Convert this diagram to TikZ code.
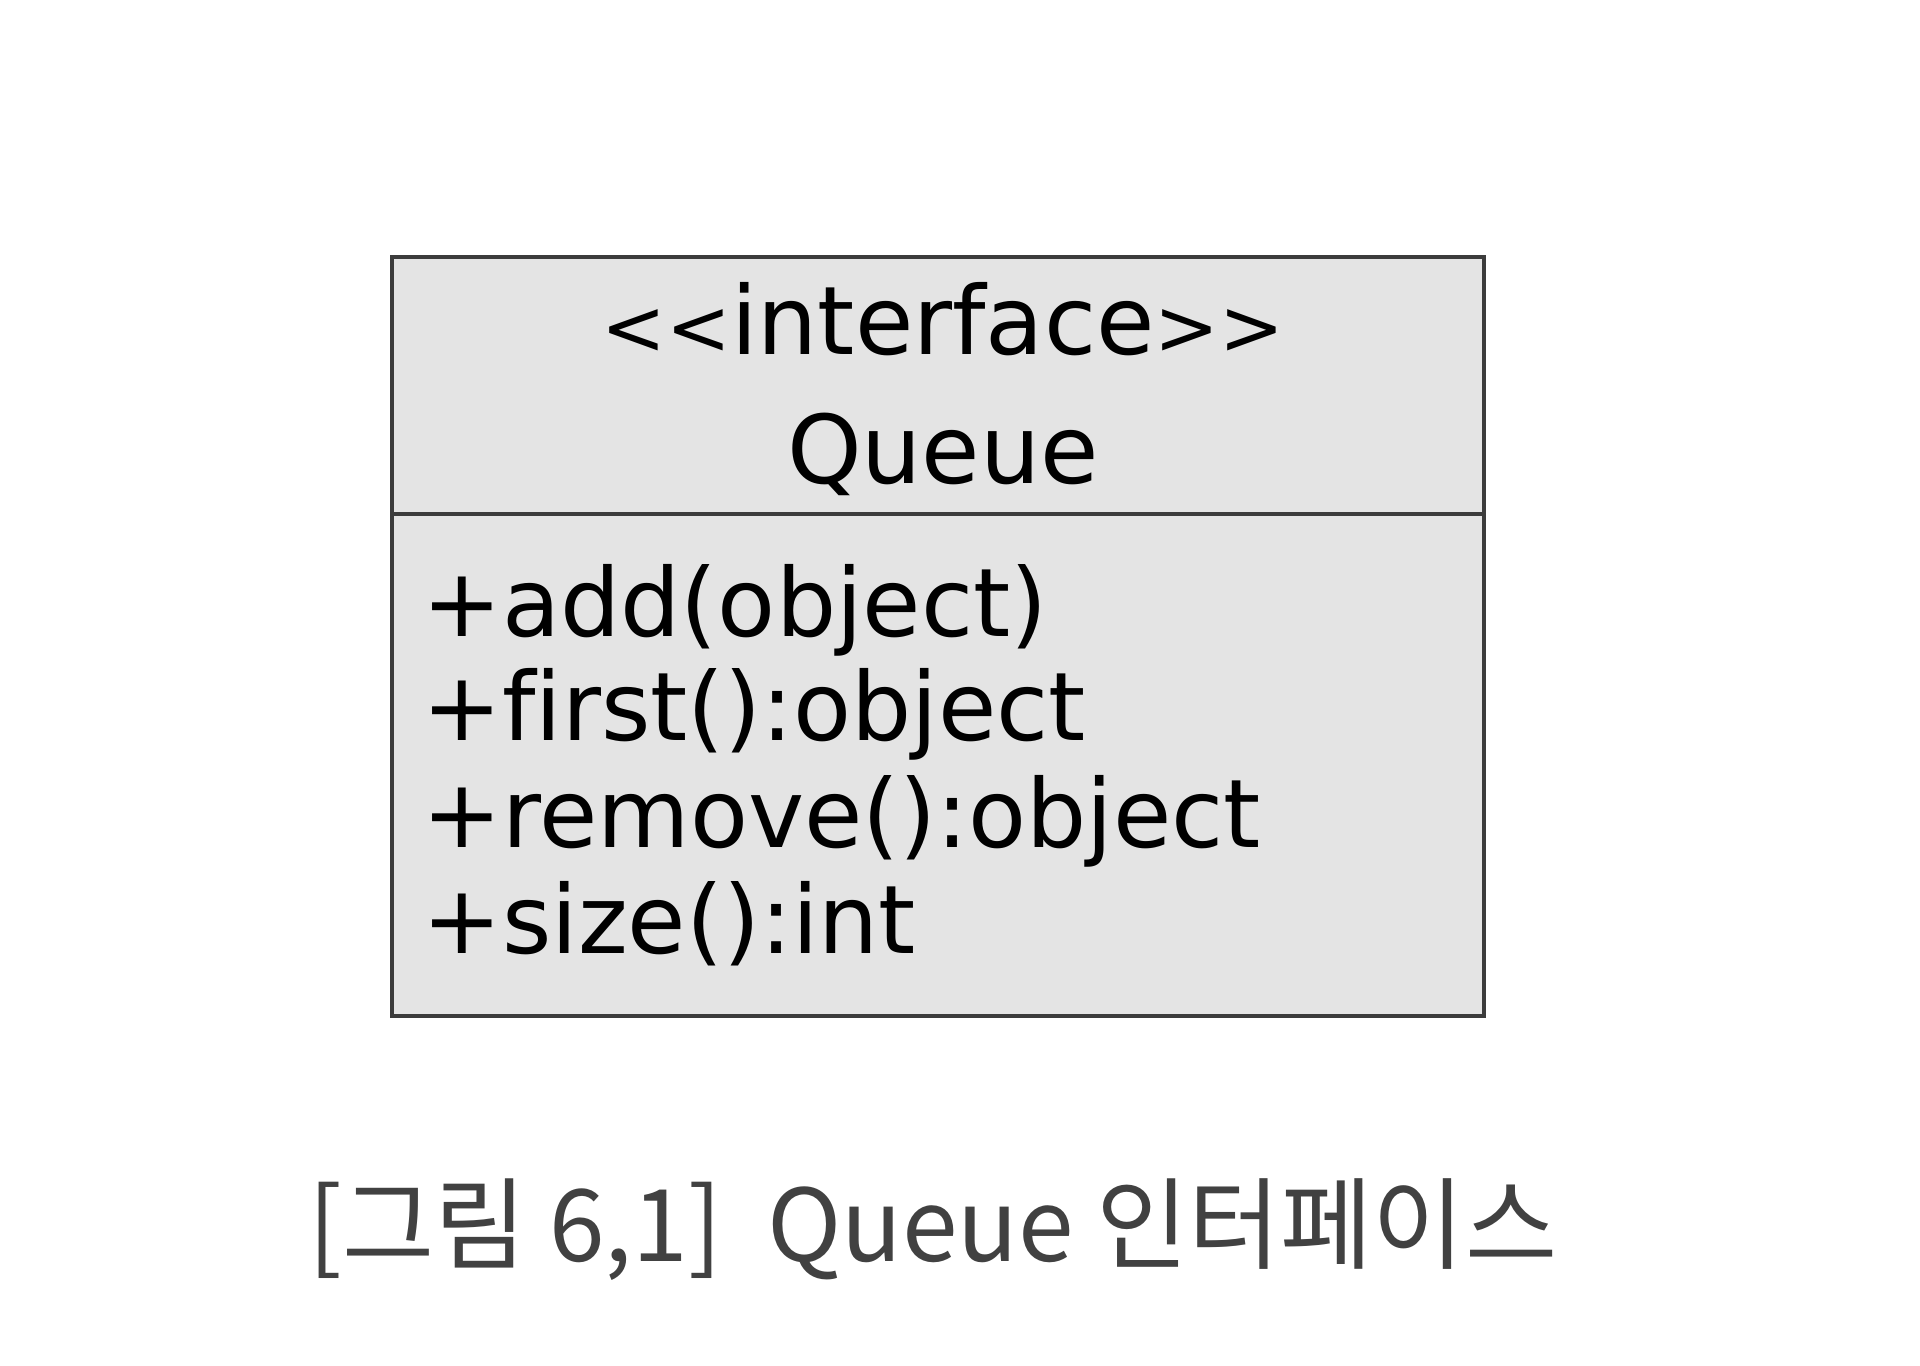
\documentclass[tikz,border=0pt]{standalone}
\usepackage{fontspec}
\setmainfont[Ligatures=NoCommon]{DejaVu Sans}
\newfontfamily\krfont{Noto Sans CJK KR}
\usetikzlibrary{positioning}
\definecolor{boxgray}{RGB}{228,228,228}
\definecolor{linegray}{RGB}{60,60,60}
\definecolor{capgray}{RGB}{65,65,65}
\newcommand{\smallsign}[1]{{\fontsize{22}{26}\selectfont#1}}

\begin{document}
\begin{tikzpicture}[font=\fontsize{27}{32}\selectfont]
	\tikzset{partStyle/.style = {draw = linegray, line width = 1.2pt, fill = boxgray, minimum width = 10.92cm, inner sep = 0pt}}
	\tikzset{memberStyle/.style = {anchor = base west, inner sep = 0pt}}
	\tikzset{titleStyle/.style = {anchor = base, inner sep = 0pt}}
	\useasboundingbox (0,0) rectangle (19.2,13.65);
	\node[partStyle, minimum height = 2.57cm] (head) at (9.38,9.795) {};
	\node[partStyle, minimum height = 5.02cm] (body) at (9.38,6.00) {};
	\node[titleStyle] (stereo) at (9.43,10.10) {\smallsign{<{}<}interface\smallsign{>{}>}};
	\node[titleStyle] (name) at (9.43,8.81) {Queue};
	\node[memberStyle] (m1) at (4.22,7.28) {+add(object)};
	\node[memberStyle] (m2) at (4.22,6.24) {+first():object};
	\node[memberStyle] (m3) at (4.22,5.18) {+remove():object};
	\node[memberStyle] (m4) at (4.22,4.12) {+size():int};
	\node[titleStyle, text = capgray, font = \krfont\fontsize{28.5}{32}\selectfont] (caption) at (9.33,1.04) {[그림 6,1]\ \ Queue 인터페이스};
\end{tikzpicture}
\end{document}
